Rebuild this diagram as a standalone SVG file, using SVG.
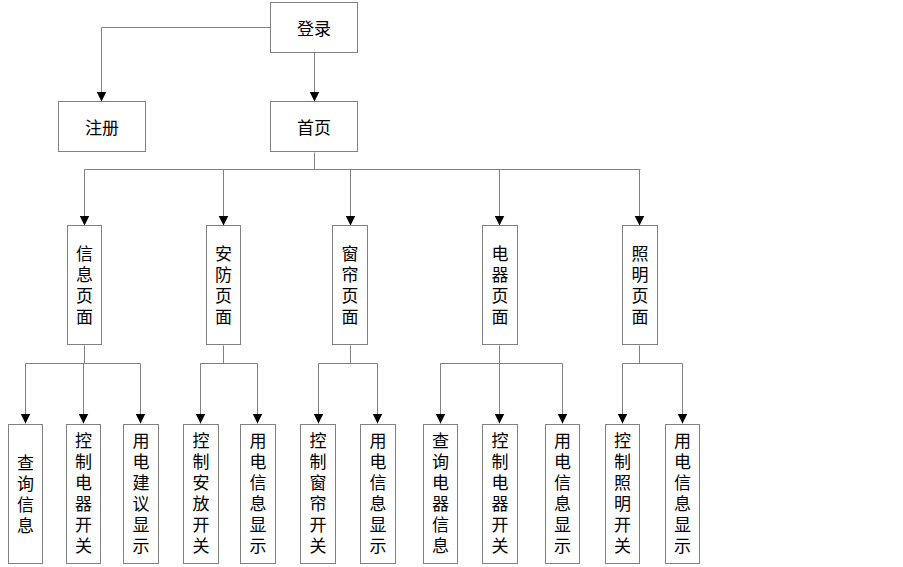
<svg xmlns="http://www.w3.org/2000/svg" width="903" height="567" viewBox="0 0 903 567">
<defs>
<marker id="arr" markerUnits="userSpaceOnUse" markerWidth="10" markerHeight="10" viewBox="0 0 10 10" refX="10" refY="5" orient="auto">
<path d="M0,0 L10,5 L0,10 Z" fill="#000"/>
</marker>
<style>
rect{fill:#fff;stroke:#808080;stroke-width:1}
text{font-family:"Noto Sans CJK SC","Noto Sans",sans-serif;font-size:17px;fill:#000;text-anchor:middle;dominant-baseline:central}
text.v{writing-mode:vertical-rl;letter-spacing:4px}
#connectors path{fill:none;stroke:#808080;stroke-width:1}
#connectors path.a{marker-end:url(#arr)}
</style>
</defs>
<rect x="0" y="0" width="903" height="567" style="fill:#fff;stroke:none"/>
<g id="connectors">
<path class="a" d="M270.5,27.5 H101.5 V101.5"/>
<path class="a" d="M314.5,52.5 V101.5"/>
<path d="M314.5,152.5 V169.5"/>
<path d="M84.5,169.5 H640.5"/>
<path class="a" d="M84.5,169.5 V225.5"/>
<path class="a" d="M223.5,169.5 V225.5"/>
<path class="a" d="M350.5,169.5 V225.5"/>
<path class="a" d="M499.5,169.5 V225.5"/>
<path class="a" d="M639.5,169.5 V225.5"/>
<path d="M84.5,345.5 V363.5"/>
<path d="M25.5,363.5 H140.5"/>
<path class="a" d="M25.5,363.5 V423.5"/>
<path class="a" d="M83.5,363.5 V423.5"/>
<path class="a" d="M140.5,363.5 V423.5"/>
<path d="M223.5,345.5 V363.5"/>
<path d="M200.5,363.5 H257.5"/>
<path class="a" d="M200.5,363.5 V423.5"/>
<path class="a" d="M257.5,363.5 V423.5"/>
<path d="M350.5,345.5 V363.5"/>
<path d="M318.5,363.5 H377.5"/>
<path class="a" d="M318.5,363.5 V423.5"/>
<path class="a" d="M377.5,363.5 V423.5"/>
<path d="M499.5,345.5 V363.5"/>
<path d="M440.5,363.5 H562.5"/>
<path class="a" d="M440.5,363.5 V423.5"/>
<path class="a" d="M499.5,363.5 V423.5"/>
<path class="a" d="M562.5,363.5 V423.5"/>
<path d="M639.5,345.5 V363.5"/>
<path d="M622.5,363.5 H682.5"/>
<path class="a" d="M622.5,363.5 V423.5"/>
<path class="a" d="M682.5,363.5 V423.5"/>
</g>
<g id="login"><rect x="270.5" y="2.5" width="87" height="50"/><text x="314" y="27">登录</text></g>
<g id="register"><rect x="58.5" y="101.5" width="87" height="50"/><text x="102" y="126.5">注册</text></g>
<g id="home"><rect x="270.5" y="101.5" width="87" height="50"/><text x="314" y="126.5">首页</text></g>

<g id="info-page"><rect x="67.5" y="225.5" width="34" height="119"/><text class="v" x="84.5" y="287.5">信息页面</text></g>
<g id="security-page"><rect x="206.5" y="225.5" width="34" height="119"/><text class="v" x="223.5" y="287.5">安防页面</text></g>
<g id="curtain-page"><rect x="332.5" y="225.5" width="35" height="119"/><text class="v" x="350" y="287.5">窗帘页面</text></g>
<g id="appliance-page"><rect x="482.5" y="225.5" width="35" height="119"/><text class="v" x="500" y="287.5">电器页面</text></g>
<g id="lighting-page"><rect x="622.5" y="225.5" width="35" height="119"/><text class="v" x="640" y="287.5">照明页面</text></g>

<g id="query-info"><rect x="8.5" y="424.5" width="34" height="139"/><text class="v" x="25.5" y="496">查询信息</text></g>
<g id="ctrl-appliance-1"><rect x="66.5" y="424.5" width="34" height="139"/><text class="v" x="83.5" y="495.5">控制电器开关</text></g>
<g id="advice-display"><rect x="123.5" y="424.5" width="35" height="139"/><text class="v" x="141" y="495.5">用电建议显示</text></g>
<g id="ctrl-security"><rect x="183.5" y="424.5" width="35" height="139"/><text class="v" x="201" y="495.5">控制安放开关</text></g>
<g id="power-display-1"><rect x="240.5" y="424.5" width="35" height="139"/><text class="v" x="258" y="495.5">用电信息显示</text></g>
<g id="ctrl-curtain"><rect x="300.5" y="424.5" width="35" height="139"/><text class="v" x="318" y="495.5">控制窗帘开关</text></g>
<g id="power-display-2"><rect x="360.5" y="424.5" width="35" height="139"/><text class="v" x="378" y="495.5">用电信息显示</text></g>
<g id="query-appliance"><rect x="423.5" y="424.5" width="34" height="139"/><text class="v" x="440.5" y="495.5">查询电器信息</text></g>
<g id="ctrl-appliance-2"><rect x="482.5" y="424.5" width="35" height="139"/><text class="v" x="500" y="495.5">控制电器开关</text></g>
<g id="power-display-3"><rect x="545.5" y="424.5" width="34" height="139"/><text class="v" x="562.5" y="495.5">用电信息显示</text></g>
<g id="ctrl-lighting"><rect x="605.5" y="424.5" width="34" height="139"/><text class="v" x="622.5" y="495.5">控制照明开关</text></g>
<g id="power-display-4"><rect x="665.5" y="424.5" width="34" height="139"/><text class="v" x="682.5" y="495.5">用电信息显示</text></g>
</svg>
